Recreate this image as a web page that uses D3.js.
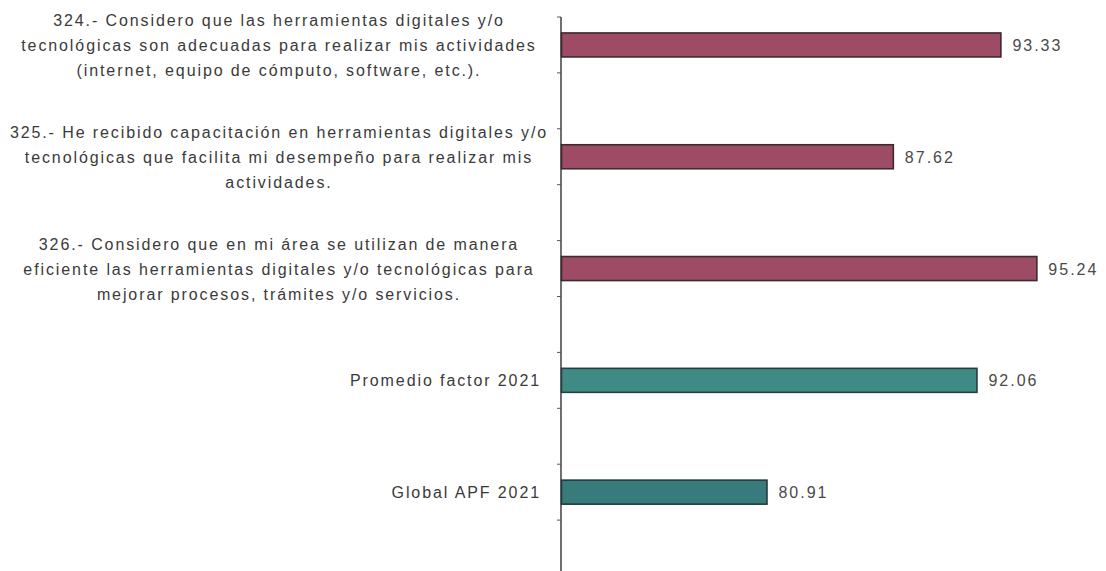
<!DOCTYPE html>
<html>
<head>
<meta charset="utf-8">
<script src="https://cdn.jsdelivr.net/npm/d3@7"></script>
<style>
  html, body { margin: 0; padding: 0; background: #ffffff; }
  svg { display: block; }
  text { font-family: "Liberation Sans", Arial, sans-serif; }
</style>
</head>
<body>
<svg id="chart" width="1106" height="571"></svg>
<script>
// Category labels (each entry is a list of wrapped lines)
const categories = [
  ["324.- Considero que las herramientas digitales y/o",
   "tecnológicas son adecuadas para realizar mis actividades",
   "(internet, equipo de cómputo, software, etc.)."],
  ["325.- He recibido capacitación en herramientas digitales y/o",
   "tecnológicas que facilita mi desempeño para realizar mis",
   "actividades."],
  ["326.- Considero que en mi área se utilizan de manera",
   "eficiente las herramientas digitales y/o tecnológicas para",
   "mejorar procesos, trámites y/o servicios."],
  ["Promedio factor 2021"],
  ["Global APF 2021"]
];
const values = [93.33, 87.62, 95.24, 92.06, 80.91];
const groups = ["reactivo", "reactivo", "reactivo", "promedio", "global"];

const fills   = { reactivo: "#9e4c66", promedio: "#3f8a84", global: "#387b7d" };
const strokes = { reactivo: "#3d2a31", promedio: "#27403f", global: "#24393b" };

const svg = d3.select("#chart");
const ids = d3.range(categories.length);

const x = d3.scaleLinear().domain([70, 100]).range([561, 1126]);
const y = d3.scaleBand().domain(ids).range([17, 576]).padding(0);
const step = y.step();
const barH = 24;
const center = i => y(i) + step / 4;

// vertical axis with ticks every half band
const tickPos = [];
ids.forEach(i => { tickPos.push(y(i)); tickPos.push(y(i) + step / 2); });
tickPos.push(y.range()[1]);
const axisG = svg.append("g").attr("transform", `translate(${x.range()[0]},0)`);
axisG.append("line")
  .attr("x1", 0).attr("x2", 0)
  .attr("y1", y.range()[0]).attr("y2", 571)
  .attr("stroke", "#333").attr("stroke-width", 1.4);
axisG.selectAll("line.tick").data(tickPos).join("line")
  .attr("class", "tick")
  .attr("x1", -4).attr("x2", 0)
  .attr("y1", d => d).attr("y2", d => d)
  .attr("stroke", "#555").attr("stroke-width", 1);

// bars
svg.append("g").selectAll("rect").data(ids).join("rect")
  .attr("x", x(70) + 0.5)
  .attr("y", i => center(i) - barH / 2)
  .attr("width", i => x(values[i]) - x(70))
  .attr("height", barH)
  .attr("fill", i => fills[groups[i]])
  .attr("stroke", i => strokes[groups[i]])
  .attr("stroke-width", 1.6);

// value labels
svg.append("g").selectAll("text").data(ids).join("text")
  .attr("x", i => x(values[i]) + 12)
  .attr("y", i => center(i) + 6)
  .attr("fill", "#4a4a4a")
  .attr("font-size", 16)
  .attr("letter-spacing", 2)
  .text(i => values[i].toFixed(2));

// category labels
const lab = svg.append("g").selectAll("text").data(ids).join("text")
  .attr("fill", "#3a3a3a")
  .attr("font-size", 16)
  .attr("letter-spacing", 1.9)
  .attr("text-anchor", i => categories[i].length > 1 ? "middle" : "end")
  .attr("x", i => categories[i].length > 1 ? 279 : 541)
  .attr("y", i => center(i) + 6);

lab.each(function(i) {
  const lines = categories[i];
  const t = d3.select(this);
  const lh = 25;
  const off = -(lines.length - 1) / 2 * lh;
  lines.forEach((ln, k) => {
    t.append("tspan")
      .attr("x", t.attr("x"))
      .attr("y", center(i) + 6 + off + k * lh)
      .text(ln);
  });
});
</script>
</body>
</html>
